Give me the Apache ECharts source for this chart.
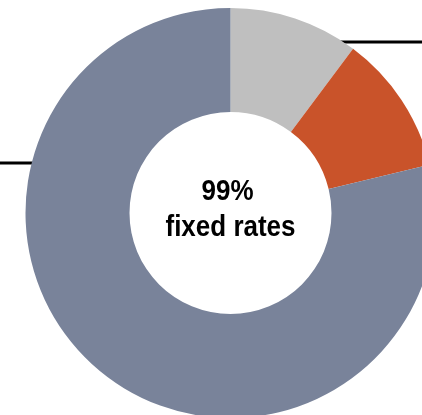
<!DOCTYPE html>
<html>
<head>
<meta charset="utf-8">
<script src="https://cdn.jsdelivr.net/npm/echarts@6/dist/echarts.min.js"></script>
<style>
  html, body { margin: 0; padding: 0; background: #ffffff; }
  #chart { width: 422px; height: 415px; }
</style>
</head>
<body>
<div id="chart"></div>
<script>
// Share of the rate portfolio, clockwise from 12 o'clock
const categories = ['Segment A', 'Segment B', 'Segment C'];
const shares = [10.2, 11.0, 78.8];
const sliceColors = ['#bfbfbf', '#c9532a', '#79839a'];

// Centre caption
const captionLines = ['99%', 'fixed rates'];

// Pie geometry and leader rows (pixel y of each horizontal leader, and its side)
const CX = 230.5, CY = 213, R_IN = 101, R_OUT = 205;
const leaderRows = [42, 142, 163];
const leaderSide = ['right', 'right', 'left'];
const LEADER_INSET = 3.5;

const chart = echarts.init(document.getElementById('chart'), null, { renderer: 'canvas' });

const data = categories.map((name, i) => ({
  name: name,
  value: shares[i],
  itemStyle: { color: sliceColors[i] }
}));

const captionFont = 'bold 26px "Liberation Sans", Arial, sans-serif';

chart.setOption({
  animation: false,
  backgroundColor: '#ffffff',
  series: [{
    type: 'pie',
    center: [CX, CY],
    radius: [R_IN, R_OUT],
    startAngle: 90,
    clockwise: true,
    avoidLabelOverlap: false,
    silent: true,
    data: data,
    itemStyle: { borderWidth: 0 },
    label: {
      show: true,
      formatter: () => '',
      position: 'outside'
    },
    labelLine: {
      show: true,
      length: 5,
      length2: 5,
      lineStyle: { color: '#000000', width: 3 }
    },
    labelLayout: function (params) {
      const i = params.dataIndex;
      const y = leaderRows[i];
      const dy = y - CY;
      const half = Math.sqrt(R_OUT * R_OUT - dy * dy);
      let x0, x1;
      if (leaderSide[i] === 'right') {
        x0 = CX + half - LEADER_INSET;
        x1 = 440;
      } else {
        x0 = CX - half + LEADER_INSET;
        x1 = -20;
      }
      return {
        x: x1,
        y: y,
        labelLinePoints: [[x0, y], [(x0 + x1) / 2, y], [x1, y]]
      };
    }
  }],
  graphic: [{
    type: 'text',
    x: CX - 3,
    y: 192,
    scaleY: 1.12,
    style: {
      text: captionLines[0],
      align: 'center',
      verticalAlign: 'middle',
      font: captionFont,
      fill: '#000000'
    }
  }, {
    type: 'text',
    x: CX,
    y: 228,
    scaleY: 1.12,
    style: {
      text: captionLines[1],
      align: 'center',
      verticalAlign: 'middle',
      font: captionFont,
      fill: '#000000'
    }
  }]
});
</script>
</body>
</html>
